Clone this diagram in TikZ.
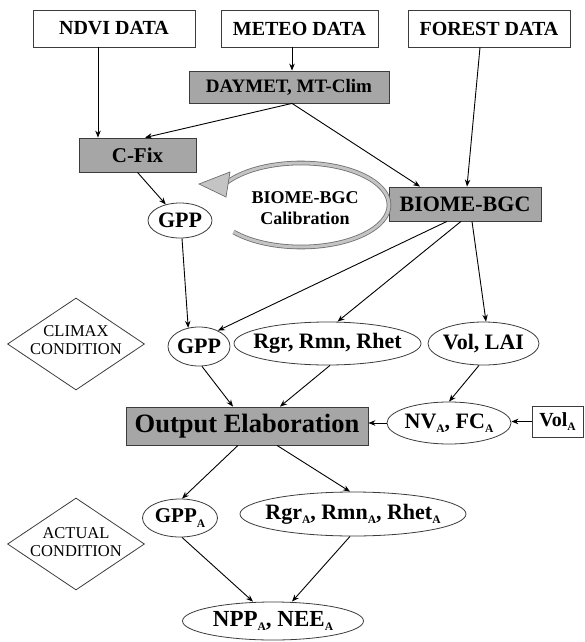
\documentclass[tikz,border=0pt]{standalone}
\usepackage{fontspec}
\setmainfont{Liberation Serif}
\usetikzlibrary{shapes.geometric,arrows.meta,calc}
\definecolor{boxgray}{RGB}{166,166,166}
\definecolor{edgegray}{RGB}{60,60,60}
\definecolor{bandgray}{RGB}{196,196,196}
\definecolor{bandedge}{RGB}{110,110,110}
\newcommand{\fsz}[2]{\fontsize{#1}{#2}\selectfont}
\newcommand{\zw}[1]{\makebox[0pt]{#1}}
\newcommand{\sbA}{\raisebox{-4.5pt}{\fontsize{11.5}{12}\selectfont A}}
\begin{document}
\begin{tikzpicture}[x=1pt,y=-1pt,
  databox/.style={draw=edgegray, line width=0.8pt, fill=white, inner sep=0pt,
    minimum width=#1, minimum height=37pt, font=\bfseries\fsz{20}{24}},
  graybox/.style={draw=edgegray, line width=0.8pt, fill=boxgray, inner sep=0pt},
  oval/.style={ellipse, draw=edgegray, line width=0.8pt, fill=white, inner sep=0pt},
  diam/.style={diamond, draw=edgegray, line width=0.8pt, fill=white, inner sep=0pt,
    minimum width=137pt, minimum height=92pt},
  diamtext/.style={align=center, font=\fsz{16.5}{17.5}, inner sep=0pt},
  arr/.style={-{Stealth[length=7pt,width=5.5pt]}, line width=0.9pt, black},
  band/.style={draw=bandedge, line width=0.8pt, double=bandgray, double distance=3pt}
]
\useasboundingbox (0,0) rectangle (584,642);

% top data boxes
\node[databox=162pt] (ndvi) at (114,28.5) {NDVI DATA};
\node[databox=157pt] (meteo) at (299.5,28.5) {METEO DATA};
\node[databox=162pt] (forest) at (489,28.5) {FOREST DATA};

% processing boxes
\node[graybox, minimum width=200pt, minimum height=32pt, font=\bfseries\fsz{19}{23}] (daymet) at (289,87) {DAYMET, MT-Clim};
\node[graybox, minimum width=117pt, minimum height=34pt, font=\bfseries\fsz{21}{25}] (cfix) at (137.5,155) {C-Fix};
\node[graybox, minimum width=152pt, minimum height=34pt, font=\bfseries\fsz{22}{26}] (bgc) at (465,204) {BIOME-BGC};

% calibration loop
\coordinate (calc0) at (301,205);
\draw[band] ($(calc0)+(220:88pt and 42pt)$) arc[start angle=220, end angle=514, x radius=88pt, y radius=42pt];
\fill[bandgray, draw=bandedge, line width=0.7pt] (199,184) -- (230,172) -- (226,197) -- cycle;
\node[font=\bfseries\fsz{18}{21}, align=center, inner sep=0pt] (caltxt) at (305,208) {BIOME-BGC\\Calibration};

% first GPP
\node[oval, minimum width=64pt, minimum height=35pt, font=\bfseries\fsz{22}{26}] (gpp1) at (180,220.5) {\zw{GPP}};

% climax row
\node[diam] (climax) at (76,344) {};
\node[diamtext] (climaxtxt) at (76,340) {CLIMAX\\CONDITION};
\node[oval, minimum width=62pt, minimum height=39pt, font=\bfseries\fsz{22}{26}] (gpp2) at (199,346.5) {\zw{GPP}};
\node[oval, minimum width=187pt, minimum height=43pt, font=\bfseries\fsz{22}{26}] (rgr) at (327.5,343.5) {\zw{Rgr, Rmn, Rhet}};
\node[oval, minimum width=111pt, minimum height=43pt, font=\bfseries\fsz{22}{26}] (vol) at (483.5,343.5) {\zw{Vol, LAI}};

% output row
\node[graybox, minimum width=242pt, minimum height=38pt, font=\bfseries\fsz{26.5}{30}] (out) at (247,426) {Output Elaboration};
\node[oval, minimum width=124pt, minimum height=42pt, font=\bfseries\fsz{22}{26}] (nv) at (449,423) {\zw{NV\sbA, FC\sbA}};
\node[draw=edgegray, line width=0.8pt, fill=white, inner sep=0pt, minimum width=51pt, minimum height=31pt, font=\bfseries\fsz{20}{24}] (vola) at (557.5,421.5) {Vol\sbA};

% actual row
\node[diam] (actual) at (76,544) {};
\node[diamtext] (actualtxt) at (76,542) {ACTUAL\\CONDITION};
\node[oval, minimum width=75pt, minimum height=38pt, font=\bfseries\fsz{21}{25}] (gppa) at (180,518) {\zw{GPP\sbA}};
\node[oval, minimum width=226pt, minimum height=44pt, font=\bfseries\fsz{22}{26}] (rgra) at (353,514) {\zw{Rgr\sbA, Rmn\sbA, Rhet\sbA}};
\node[oval, minimum width=181pt, minimum height=38pt, font=\bfseries\fsz{23}{27}] (npp) at (273,621) {\zw{NPP\sbA, NEE\sbA}};

% connectors
\draw[arr] ([xshift=-16pt]ndvi.south) -- ([xshift=-39.5pt]cfix.north);
\draw[arr] ([xshift=-7.5pt]meteo.south) -- ([xshift=3pt]daymet.north);
\draw[arr] ([xshift=3pt]daymet.south) -- ([xshift=7.5pt]cfix.north);
\draw[arr] ([xshift=3pt]daymet.south) -- ([xshift=-45pt]bgc.north);
\draw[arr] ([xshift=-9pt]forest.south) -- ([xshift=2pt]bgc.north);
\draw[arr] (cfix.south) -- (gpp1);
\draw[arr] ([xshift=2pt]gpp1.south) -- (gpp2.120);
\draw[arr] ([xshift=-18pt]bgc.south) -- (gpp2.40);
\draw[arr] ([xshift=-4pt]bgc.south) -- ([xshift=10pt]rgr.north);
\draw[arr] ([xshift=7pt]bgc.south) -- ([xshift=2.5pt]vol.north);
\draw[arr] ([xshift=3pt]gpp2.south) -- ([xshift=-14pt]out.north);
\draw[arr] ([xshift=2.5pt]rgr.south) -- ([xshift=33pt]out.north);
\draw[arr] ([xshift=-4.5pt]vol.south) -- (nv.north);
\draw[arr] (vola.west) -- (vola.west -| nv.east);
\draw[arr] (nv.west) -- (nv.west -| out.east);
\draw[arr] ([xshift=-9pt]out.south) -- ([xshift=2pt]gppa.north);
\draw[arr] ([xshift=30pt]out.south) -- ([xshift=-3pt]rgra.north);
\draw[arr] ([xshift=2pt]gppa.south) -- ([xshift=-20pt]npp.north);
\draw[arr] ([xshift=-3pt]rgra.south) -- ([xshift=19pt]npp.north);
\end{tikzpicture}
\end{document}
